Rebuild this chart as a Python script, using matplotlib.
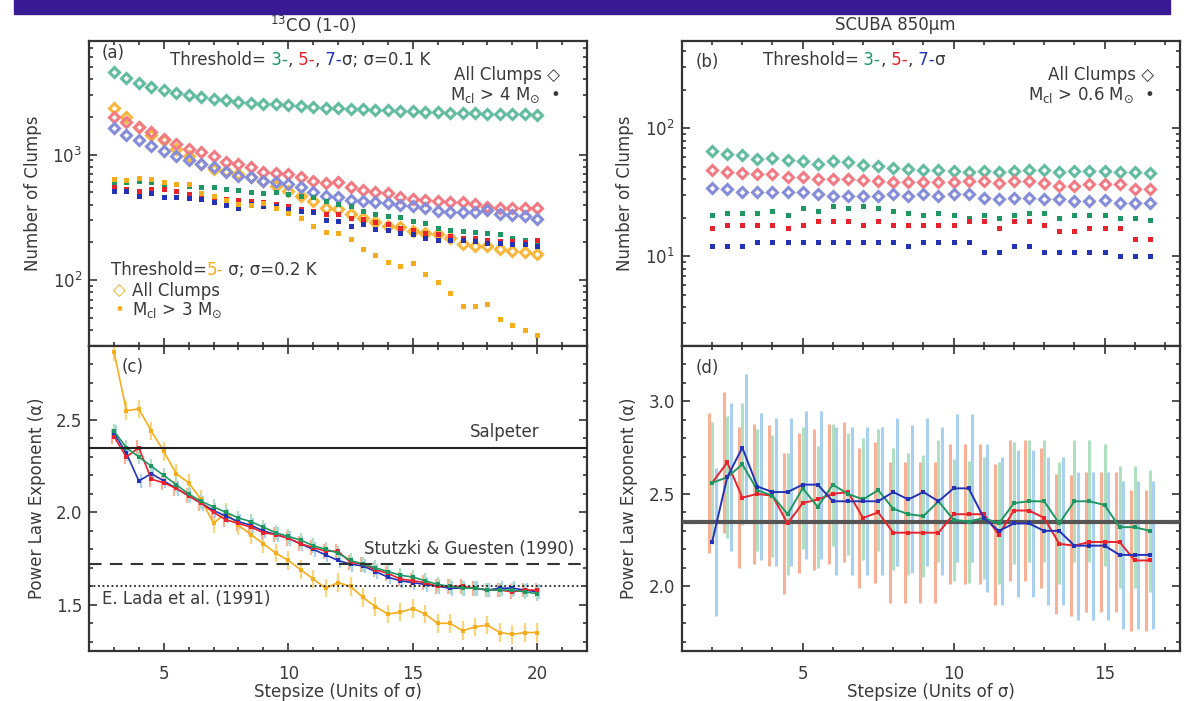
import numpy as np
import matplotlib
matplotlib.use("Agg")
import matplotlib.pyplot as plt
from matplotlib.patches import Rectangle
from matplotlib.ticker import MultipleLocator, LogLocator, NullFormatter

plt.rcParams['font.family'] = ['DejaVu Sans']
plt.rcParams['mathtext.fontset'] = 'dejavusans'

# ---- data: 13CO (1-0), stepsize 3..20 sigma ----
step_co = np.arange(3, 20.5, 0.5)

co_all_3 = [4560, 4030, 3680, 3420, 3250, 3110, 2970, 2880, 2790, 2700, 2620, 2590, 2540, 2510,
            2470, 2420, 2390, 2360, 2350, 2320, 2290, 2260, 2250, 2240, 2210, 2190, 2180, 2150,
            2140, 2130, 2120, 2110, 2100, 2090, 2080]
co_all_5 = [1990, 1814, 1654, 1509, 1335, 1217, 1110, 1044, 982, 868, 842, 802, 722, 713, 700,
            659, 619, 590, 601, 548, 522, 500, 491, 456, 442, 434, 428, 421, 416, 403, 384, 379,
            374, 374, 379]
co_all_7 = [1624, 1419, 1294, 1180, 1076, 982, 906, 842, 792, 722, 679, 659, 619, 601, 582, 548,
            500, 470, 456, 434, 428, 416, 408, 398, 391, 374, 356, 352, 346, 346, 361, 335, 329,
            325, 306]
co_all_5b = [2362, 1990, 1654, 1419, 1294, 1110, 982, 842, 768, 745, 700, 659, 619, 565, 515, 470,
             428, 379, 367, 335, 311, 293, 270, 265, 247, 239, 232, 215, 193, 187, 187, 176, 171,
             168, 163]
co_big_3 = [601, 601, 619, 601, 582, 582, 565, 548, 548, 531, 522, 506, 491, 500, 484, 470, 456,
            428, 403, 391, 356, 335, 325, 319, 296, 287, 262, 250, 247, 244, 239, 232, 218, 211, 196]
co_big_5 = [548, 531, 515, 531, 531, 515, 484, 470, 456, 442, 434, 428, 416, 403, 391, 367, 356,
            335, 335, 315, 306, 293, 279, 262, 250, 239, 232, 225, 218, 215, 211, 205, 205, 203, 208]
co_big_7 = [515, 509, 470, 491, 456, 461, 450, 442, 416, 398, 379, 403, 391, 391, 367, 356, 346,
            300, 296, 270, 279, 254, 250, 239, 232, 218, 211, 211, 208, 205, 199, 199, 195, 193, 187]
co_big_5b = [639, 628, 651, 639, 600, 583, 583, 499, 470, 434, 403, 398, 411, 375, 345, 315, 272,
             240, 237, 214, 176, 158, 140, 131, 138, 113, 97, 79, 63, 62, 65, 49, 44, 40, 37]

alpha_co_3 = [2.44, 2.35, 2.30, 2.25, 2.20, 2.15, 2.10, 2.06, 2.03, 2.00, 1.97, 1.95, 1.92, 1.89,
              1.87, 1.85, 1.82, 1.80, 1.78, 1.74, 1.72, 1.70, 1.68, 1.66, 1.65, 1.63, 1.61, 1.60,
              1.59, 1.59, 1.58, 1.58, 1.58, 1.57, 1.56]
alpha_co_5 = [2.41, 2.30, 2.35, 2.18, 2.16, 2.13, 2.09, 2.05, 2.00, 1.96, 1.94, 1.92, 1.89, 1.88,
              1.86, 1.83, 1.81, 1.79, 1.79, 1.73, 1.72, 1.69, 1.67, 1.64, 1.63, 1.62, 1.60, 1.60,
              1.60, 1.59, 1.58, 1.58, 1.57, 1.58, 1.58]
alpha_co_7 = [2.43, 2.32, 2.17, 2.21, 2.17, 2.13, 2.09, 2.05, 2.01, 1.98, 1.95, 1.93, 1.90, 1.88,
              1.86, 1.83, 1.80, 1.77, 1.74, 1.72, 1.71, 1.68, 1.65, 1.63, 1.62, 1.61, 1.60, 1.59,
              1.59, 1.59, 1.58, 1.59, 1.59, 1.58, 1.57]
alpha_co_5b = [2.87, 2.55, 2.56, 2.44, 2.33, 2.21, 2.16, 2.07, 1.94, 2.00, 1.93, 1.88, 1.83, 1.78,
               1.74, 1.69, 1.64, 1.59, 1.62, 1.60, 1.54, 1.49, 1.45, 1.46, 1.48, 1.45, 1.40, 1.40,
               1.36, 1.38, 1.39, 1.35, 1.34, 1.35, 1.35]
err_co = {'3': 0.04, '5': 0.04, '7': 0.04, '5b': 0.05}

# ---- data: SCUBA 850um, stepsize 2..16.5 sigma ----
step_sc = np.arange(2, 17, 0.5)

sc_all_3 = [66.0, 62.9, 61.7, 57.4, 58.5, 56.7, 55.7, 53.1, 55.1, 54.1, 51.5, 50.9, 49.4, 48.5, 47.3,
            47.3, 46.5, 45.7, 46.2, 45.7, 46.2, 47.3, 47.3, 45.9, 46.5, 46.5, 46.5, 45.7, 45.7, 44.6]
sc_all_5 = [47.3, 45.9, 44.6, 43.8, 43.8, 41.7, 41.7, 40.5, 40.5, 40.5, 39.5, 38.8, 38.1, 38.1, 38.1,
            38.1, 38.1, 38.8, 38.8, 37.2, 38.8, 38.8, 37.6, 35.5, 35.5, 37.0, 37.0, 36.5, 33.8, 33.8]
sc_all_7 = [34.4, 33.8, 31.8, 31.8, 31.8, 31.8, 31.8, 30.5, 29.6, 29.6, 29.6, 29.6, 30.9, 29.6, 30.9,
            29.6, 30.9, 30.5, 28.7, 27.9, 28.7, 28.7, 27.9, 27.9, 27.0, 27.0, 27.4, 25.9, 25.9, 25.9]
sc_big_3 = [20.9, 21.9, 21.9, 21.9, 22.8, 20.9, 23.7, 22.8, 24.7, 23.7, 24.7, 23.7, 22.8, 21.9, 20.9,
            21.9, 20.9, 19.8, 20.9, 19.8, 20.9, 21.9, 21.9, 19.8, 20.9, 20.9, 20.9, 19.8, 19.8, 19.1]
sc_big_5 = [16.7, 17.7, 17.7, 17.7, 17.7, 16.7, 17.7, 18.8, 18.8, 18.8, 17.7, 18.8, 17.7, 17.7, 17.7,
            17.7, 17.7, 18.8, 18.8, 16.7, 18.8, 18.8, 17.7, 15.9, 15.9, 16.7, 16.7, 16.7, 13.8, 13.8]
sc_big_7 = [12.0, 12.0, 12.0, 12.9, 12.9, 12.9, 12.9, 12.9, 12.9, 12.9, 12.9, 12.9, 12.9, 12.0, 12.9,
            12.9, 12.9, 12.9, 10.9, 10.9, 12.0, 12.0, 10.9, 10.9, 10.9, 10.9, 10.9, 10.0, 10.0, 10.0]

alpha_sc_3 = [2.56, 2.59, 2.66, 2.52, 2.49, 2.39, 2.53, 2.43, 2.55, 2.50, 2.47, 2.52, 2.42, 2.39, 2.38,
              2.46, 2.36, 2.35, 2.37, 2.34, 2.45, 2.46, 2.46, 2.34, 2.46, 2.46, 2.44, 2.32, 2.32, 2.30]
alpha_sc_5 = [2.56, 2.67, 2.48, 2.50, 2.49, 2.34, 2.45, 2.47, 2.50, 2.51, 2.37, 2.40, 2.29, 2.29, 2.29,
              2.29, 2.39, 2.39, 2.39, 2.28, 2.41, 2.41, 2.37, 2.23, 2.22, 2.24, 2.24, 2.24, 2.14, 2.14]
alpha_sc_7 = [2.24, 2.59, 2.75, 2.54, 2.51, 2.51, 2.55, 2.55, 2.46, 2.46, 2.46, 2.46, 2.51, 2.47, 2.51,
              2.46, 2.53, 2.53, 2.37, 2.30, 2.34, 2.34, 2.30, 2.30, 2.22, 2.22, 2.22, 2.17, 2.17, 2.17]
err_sc = {'3': 0.33, '5': 0.38, '7': 0.40}

salpeter = 2.35
stutzki = 1.72
lada = 1.60

# ---- colours ----
DARK = '#3a3a3a'
GREEN, RED, BLUE, ORANGE = '#1f9762', '#e8232d', '#2433b5', '#f5ad1c'
GREEN_L, RED_L, BLUE_L, ORANGE_L = '#62bd9c', '#f27a82', '#858ddb', '#f6b73c'
GREEN_E, RED_E, BLUE_E, ORANGE_E = '#b0dfc1', '#f7b196', '#a9d1ef', '#f9d57e'
FS = 12

fig = plt.figure(figsize=(11.92, 7.01), dpi=100)
fig.add_artist(Rectangle((14 / 1192, 1 - 14 / 701), (1170 - 14) / 1192, 14 / 701,
                         transform=fig.transFigure, color='#371a94', zorder=0))

ax_a = fig.add_axes([0.0747, 0.5064, 0.4178, 0.4351])
ax_c = fig.add_axes([0.0747, 0.0713, 0.4178, 0.4351])
ax_b = fig.add_axes([0.5721, 0.5064, 0.4178, 0.4351])
ax_d = fig.add_axes([0.5721, 0.0713, 0.4178, 0.4351])


def style(ax, logy=False):
    for s in ax.spines.values():
        s.set_linewidth(1.6)
        s.set_color('#333333')
    ax.tick_params(which='both', direction='in', top=True, right=True,
                   width=1.2, colors='#333333', labelcolor=DARK, labelsize=FS)
    ax.tick_params(which='major', length=6)
    ax.tick_params(which='minor', length=3)
    ax.tick_params(axis='x', which='major', pad=10)
    ax.tick_params(axis='y', which='major', pad=5)
    if logy:
        ax.set_yscale('log')
        ax.yaxis.set_minor_locator(LogLocator(subs=np.arange(2, 10)))
        ax.yaxis.set_minor_formatter(NullFormatter())


def set_labels(ax, ylabel, yx, xlabel=None):
    ax.set_ylabel(ylabel, fontsize=FS, color=DARK)
    ax.yaxis.label.set_va('center')
    ax.yaxis.set_label_coords(yx, 0.5)
    if xlabel:
        ax.set_xlabel(xlabel, fontsize=FS, color=DARK)
        ax.xaxis.label.set_va('center')
        ax.xaxis.set_label_coords(0.5, -0.136)


def color_text(ax, x, y, parts):
    t = ax.text(x, y, parts[0][0], color=parts[0][1], transform=ax.transAxes,
                ha='left', va='center', fontsize=FS)
    for s, c in parts[1:]:
        t = ax.annotate(s, xy=(1, 0.5), xycoords=t, color=c, ha='left', va='center', fontsize=FS)


open_kw = dict(marker='D', ls='none', ms=4.6, mfc='none', mew=2.2)
dot_kw = dict(marker='s', ls='none', ms=3.6, mew=0)

# ---- (a) ----
style(ax_a, logy=True)
ax_a.plot(step_co, co_all_3, mec=GREEN_L, **open_kw)
ax_a.plot(step_co, co_all_5b, mec=ORANGE_L, **open_kw)
ax_a.plot(step_co, co_all_5, mec=RED_L, **open_kw)
ax_a.plot(step_co, co_all_7, mec=BLUE_L, **open_kw)
ax_a.plot(step_co, co_big_3, mfc=GREEN, **dot_kw)
ax_a.plot(step_co, co_big_5, mfc=RED, **dot_kw)
ax_a.plot(step_co, co_big_7, mfc=BLUE, **dot_kw)
ax_a.plot(step_co, co_big_5b, mfc=ORANGE, **dot_kw)
ax_a.set_xlim(2, 22)
ax_a.set_ylim(30, 8000)
ax_a.xaxis.set_major_locator(MultipleLocator(5))
ax_a.xaxis.set_minor_locator(MultipleLocator(1))
ax_a.tick_params(labelbottom=False)
set_labels(ax_a, 'Number of Clumps', -0.1135)
ax_a.text(0.026, 0.96, '(a)', transform=ax_a.transAxes, fontsize=FS, color=DARK, va='center')
color_text(ax_a, 0.163, 0.938, [('Threshold=', DARK), (' 3-', GREEN), (',', DARK), (' 5-', RED),
                                 (',', DARK), (' 7-', BLUE), ('σ; σ=0.1 K', DARK)])
ax_a.text(0.946, 0.889, 'All Clumps ◇', transform=ax_a.transAxes, ha='right', va='center',
          fontsize=FS, color=DARK)
ax_a.text(0.946, 0.823, r'M$_{\rm cl}$ > 4 M$_{\odot}$  •', transform=ax_a.transAxes, ha='right',
          va='center', fontsize=FS, color=DARK)
color_text(ax_a, 0.044, 0.249, [('Threshold=', DARK), ('5-', ORANGE), (' σ; σ=0.2 K', DARK)])
ax_a.text(0.061, 0.182, '◇', transform=ax_a.transAxes, ha='center', va='center', fontsize=FS,
          color=ORANGE)
ax_a.text(0.086, 0.182, 'All Clumps', transform=ax_a.transAxes, va='center', fontsize=FS, color=DARK)
ax_a.text(0.061, 0.118, '•', transform=ax_a.transAxes, ha='center', va='center', fontsize=FS,
          color=ORANGE)
ax_a.text(0.086, 0.118, r'M$_{\rm cl}$ > 3 M$_{\odot}$', transform=ax_a.transAxes, va='center',
          fontsize=FS, color=DARK)

# ---- (b) ----
style(ax_b, logy=True)
ax_b.plot(step_sc, sc_all_3, mec=GREEN_L, **open_kw)
ax_b.plot(step_sc, sc_all_5, mec=RED_L, **open_kw)
ax_b.plot(step_sc, sc_all_7, mec=BLUE_L, **open_kw)
ax_b.plot(step_sc, sc_big_3, mfc=GREEN, **dot_kw)
ax_b.plot(step_sc, sc_big_5, mfc=RED, **dot_kw)
ax_b.plot(step_sc, sc_big_7, mfc=BLUE, **dot_kw)
ax_b.set_xlim(1, 17.5)
ax_b.set_ylim(2, 480)
ax_b.xaxis.set_major_locator(MultipleLocator(5))
ax_b.xaxis.set_minor_locator(MultipleLocator(1))
ax_b.tick_params(labelbottom=False)
set_labels(ax_b, 'Number of Clumps', -0.1135)
ax_b.text(0.028, 0.931, '(b)', transform=ax_b.transAxes, fontsize=FS, color=DARK, va='center')
color_text(ax_b, 0.162, 0.938, [('Threshold=', DARK), (' 3-', GREEN), (',', DARK), (' 5-', RED),
                                 (',', DARK), (' 7-', BLUE), ('σ', DARK)])
ax_b.text(0.947, 0.889, 'All Clumps ◇', transform=ax_b.transAxes, ha='right', va='center',
          fontsize=FS, color=DARK)
ax_b.text(0.947, 0.823, r'M$_{\rm cl}$ > 0.6 M$_{\odot}$  •', transform=ax_b.transAxes, ha='right',
          va='center', fontsize=FS, color=DARK)

# ---- (c) ----
style(ax_c)
series_c = [(alpha_co_5b, ORANGE, ORANGE_E, err_co['5b'], 0.0),
            (alpha_co_7, BLUE, BLUE_E, err_co['7'], 0.07),
            (alpha_co_5, RED, RED_E, err_co['5'], -0.07),
            (alpha_co_3, GREEN, GREEN_E, err_co['3'], 0.0)]
for vals, c, ce, e, off in series_c:
    ax_c.errorbar(step_co + off, vals, yerr=e, fmt='none', ecolor=ce, elinewidth=1.6, zorder=2)
for vals, c, ce, e, off in series_c:
    ax_c.plot(step_co, vals, color=c, lw=1.2, marker='s', ms=3, mew=0, zorder=3)
ax_c.axhline(salpeter, color='#222222', lw=1.5, zorder=4)
ax_c.axhline(stutzki, color='#333333', lw=1.5, ls=(0, (6, 4)), zorder=4)
ax_c.axhline(lada, color='#222222', lw=1.3, ls=(0, (1, 1.5)), zorder=4)
ax_c.set_xlim(2, 22)
ax_c.set_ylim(1.25, 2.9)
ax_c.xaxis.set_major_locator(MultipleLocator(5))
ax_c.xaxis.set_minor_locator(MultipleLocator(1))
ax_c.yaxis.set_major_locator(MultipleLocator(0.5))
ax_c.yaxis.set_minor_locator(MultipleLocator(0.1))
set_labels(ax_c, 'Power Law Exponent (α)', -0.105, 'Stepsize (Units of σ)')
ax_c.text(0.066, 0.931, '(c)', transform=ax_c.transAxes, fontsize=FS, color=DARK, va='center')
ax_c.text(20.1, 2.435, 'Salpeter', ha='right', va='center', fontsize=FS, color=DARK)
ax_c.text(21.5, 1.80, 'Stutzki & Guesten (1990)', ha='right', va='center', fontsize=FS, color=DARK)
ax_c.text(2.53, 1.53, 'E. Lada et al. (1991)', ha='left', va='center', fontsize=FS, color=DARK)

# ---- (d) ----
style(ax_d)
series_d = [(alpha_sc_5, RED, RED_E, err_sc['5'], -0.12),
            (alpha_sc_3, GREEN, GREEN_E, err_sc['3'], 0.0),
            (alpha_sc_7, BLUE, BLUE_E, err_sc['7'], 0.12)]
for vals, c, ce, e, off in series_d:
    ax_d.errorbar(step_sc + off, vals, yerr=e, fmt='none', ecolor=ce, elinewidth=2.2, zorder=2)
ax_d.axhline(salpeter, color='#555555', lw=3, zorder=3)
for vals, c, ce, e, off in series_d:
    ax_d.plot(step_sc, vals, color=c, lw=1.4, marker='s', ms=3.2, mew=0, zorder=4)
ax_d.set_xlim(1, 17.5)
ax_d.set_ylim(1.65, 3.3)
ax_d.xaxis.set_major_locator(MultipleLocator(5))
ax_d.xaxis.set_minor_locator(MultipleLocator(1))
ax_d.yaxis.set_major_locator(MultipleLocator(0.5))
ax_d.yaxis.set_minor_locator(MultipleLocator(0.1))
set_labels(ax_d, 'Power Law Exponent (α)', -0.106, 'Stepsize (Units of σ)')
ax_d.text(0.028, 0.928, '(d)', transform=ax_d.transAxes, fontsize=FS, color=DARK, va='center')

# ---- column titles ----
fig.text(0.263, 0.964, r'$^{13}$CO (1-0)', ha='center', va='center', fontsize=FS, color=DARK)
fig.text(0.751, 0.964, 'SCUBA 850μm', ha='center', va='center', fontsize=FS, color=DARK)

fig.savefig('out.png', dpi=100)
